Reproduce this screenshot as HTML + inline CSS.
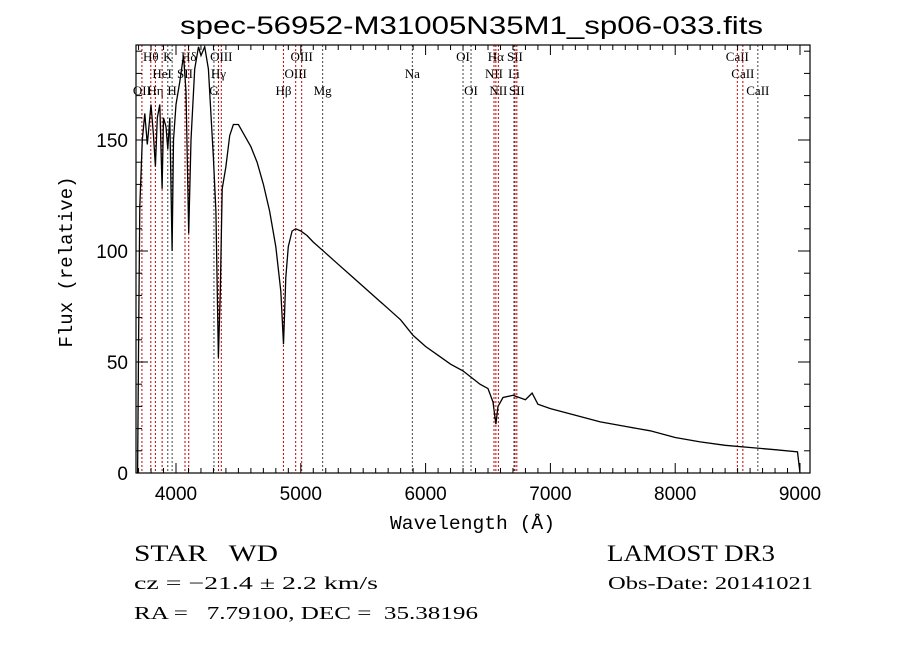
<!DOCTYPE html>
<html><head><meta charset="utf-8">
<style>
body{margin:0;background:#fff;}
svg{display:block;font-family:"Liberation Serif",serif;}
</style></head>
<body>
<svg id="chart" width="900" height="649" viewBox="0 0 900 649" xmlns="http://www.w3.org/2000/svg">
<rect width="900" height="649" fill="#fff"/>
<text x="180" y="34" font-size="25" textLength="583" lengthAdjust="spacingAndGlyphs" font-family="Liberation Sans,sans-serif">spec-56952-M31005N35M1_sp06-033.fits</text>
<g id="lines"></g>
<g id="axes"></g>
<path id="spec" fill="none" stroke="#000" stroke-width="1.3"/>
<rect x="136" y="45" width="674" height="428" fill="none" stroke="#000" stroke-width="1.2"/>
<text x="390" y="529" font-size="19" textLength="165" lengthAdjust="spacingAndGlyphs" font-family="Liberation Mono,monospace">Wavelength (Å)</text>
<text transform="translate(72,262) rotate(-90)" font-size="19" text-anchor="middle" font-family="Liberation Mono,monospace">Flux (relative)</text>
<text x="134" y="561" font-size="23" textLength="144" lengthAdjust="spacingAndGlyphs" xml:space="preserve">STAR   WD</text>
<text x="607" y="561" font-size="23" textLength="168" lengthAdjust="spacingAndGlyphs">LAMOST DR3</text>
<text x="134" y="589" font-size="18" textLength="244" lengthAdjust="spacingAndGlyphs">cz = −21.4 ± 2.2 km/s</text>
<text x="608" y="589" font-size="18" textLength="205" lengthAdjust="spacingAndGlyphs">Obs-Date: 20141021</text>
<text x="134" y="619" font-size="18" textLength="344" lengthAdjust="spacingAndGlyphs" xml:space="preserve">RA =   7.79100, DEC =  35.38196</text>
</svg>
<script>
const wave=[3692,3700,3710,3730,3750,3770,3800,3820,3835,3850,3870,3889,3900,3920,3934,3950,3969,3980,4000,4030,4060,4080,4102,4120,4150,4180,4200,4230,4260,4280,4300,4320,4340,4355,4370,4400,4430,4460,4500,4550,4600,4650,4700,4750,4800,4840,4861,4880,4900,4930,4960,5000,5050,5100,5200,5300,5400,5500,5600,5700,5800,5900,6000,6100,6200,6300,6436,6500,6540,6563,6580,6620,6700,6750,6800,6853,6900,7000,7200,7400,7600,7800,8000,8200,8400,8600,8800,8980,9000];
const flux=[0,60,120,150,162,148,166,152,138,160,166,128,160,156,146,160,100,150,166,176,188,172,108,150,182,192,188,192,182,162,142,118,52,82,128,138,152,157,157,152,147,140,130,118,102,82,58,88,102,109,110,109,107,104,99,94,89,84,79,74,69,62,57,53,49,46,40,38,32,22,30,34,35,34,33,36,31,29,26,23,21,19,16,14,12.5,11.5,10.5,9.5,0];
const lineW=[3727,3798,3835,3889,3934,3969,4072,4102,4304,4340,4363,4861,4959,5007,5175,5894,6300,6364,6548,6563,6583,6708,6716,6731,8498,8542,8662];
const lineName=["OII","Hθ","Hη","HeI","K","H","SII","Hδ","G","Hγ","OIII","Hβ","OIII","OIII","Mg","Na","OI","OI","NII","Hα","NII","Li","SII","SII","CaII","CaII","CaII"];
const lineRow=[2,0,2,1,0,2,1,0,2,1,0,2,1,0,2,1,0,2,1,0,2,1,0,2,0,1,2];
const lineEmis=[1,1,1,1,0,0,1,1,0,1,1,1,1,1,0,0,0,0,1,1,1,0,1,1,1,1,0];
const xTicks=[4000,5000,6000,7000,8000,9000];
const yTicks=[0,50,100,150];
const X=w=>176+(w-4000)*0.1248;
const Y=f=>473-f*2.22;
const NS="http://www.w3.org/2000/svg";
function mk(tag,attrs,parent){const e=document.createElementNS(NS,tag);for(const k in attrs)e.setAttribute(k,attrs[k]);parent.appendChild(e);return e;}
const lg=document.getElementById('lines');
const rowY=[61,78,95];
lineW.forEach((w,i)=>{
  const l=mk('line',{x1:X(w),x2:X(w),y1:45,y2:473,stroke:lineEmis[i]?'#c00000':'#444','stroke-width':1,'stroke-dasharray':'2,2'},lg);
  
  
  const t=mk('text',{x:X(w),y:rowY[lineRow[i]],'font-size':13,'text-anchor':'middle'},lg);
  t.textContent=lineName[i];
  
  
});
const ax=document.getElementById('axes');
for(let w=3700;w<=9000;w+=100){
  const maj=w%1000===0;
  const h=maj?10:5;
  const a=mk('line',{x1:X(w),x2:X(w),y1:473,y2:473-h,stroke:'#000'},ax);
  
  
  const b=mk('line',{x1:X(w),x2:X(w),y1:45,y2:45+h,stroke:'#000'},ax);
  
  
}
xTicks.forEach(w=>{
  const t=mk('text',{x:X(w),y:500,'font-size':19,'text-anchor':'middle','font-family':'Liberation Sans,sans-serif'},ax);
  t.textContent=w;
  
  
});
for(let f=0;f<=190;f+=10){
  const maj=f%50===0;const h=maj?12:6;
  const a=mk('line',{x1:136,x2:136+h,y1:Y(f),y2:Y(f),stroke:'#000'},ax);
  
  
  const b=mk('line',{x1:810,x2:810-h,y1:Y(f),y2:Y(f),stroke:'#000'},ax);
  
  
}
yTicks.forEach(f=>{
  const t=mk('text',{x:128,y:Y(f)+7,'font-size':19,'text-anchor':'end','font-family':'Liberation Sans,sans-serif'},ax);
  t.textContent=f;
  
  
});
let d='';
wave.forEach((w,i)=>{d+=(i?'L':'M')+X(w).toFixed(1)+','+Math.max(45,Y(flux[i])).toFixed(1);});
document.getElementById('spec').setAttribute('d',d);
</script>
</body></html>
